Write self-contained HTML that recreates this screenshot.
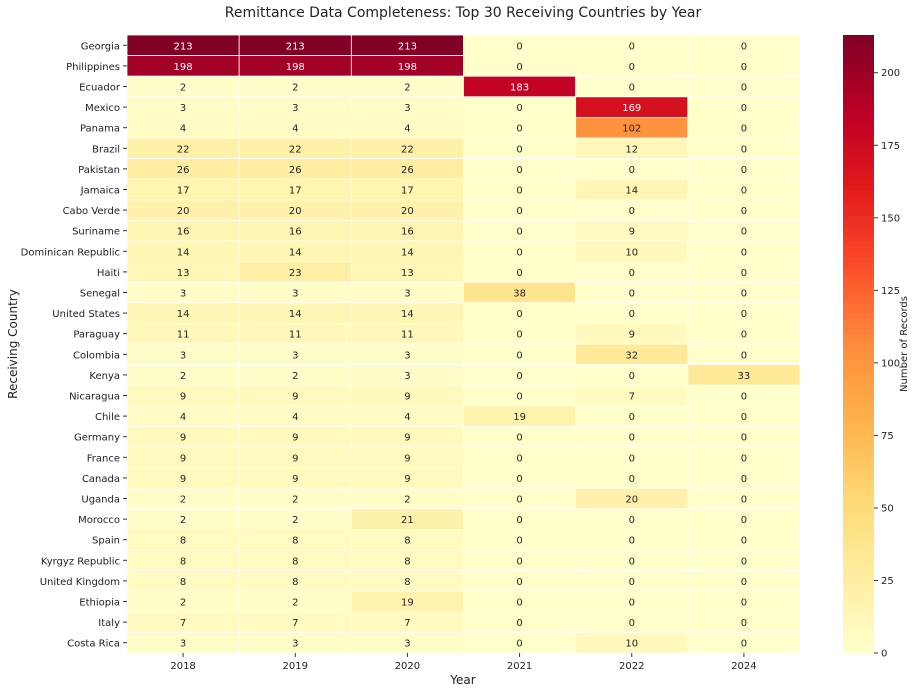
<!DOCTYPE html>
<html><head><meta charset="utf-8">
<style>
body{margin:0;background:#fff;font-family:"Liberation Sans","DejaVu Sans",sans-serif;}
svg text{font-family:"DejaVu Sans","Liberation Sans",sans-serif;}
</style></head>
<body>
<svg id="chart" width="918" height="689" xmlns="http://www.w3.org/2000/svg">
<text x="463" y="17" text-anchor="middle" font-size="14" fill="#222">Remittance Data Completeness: Top 30 Receiving Countries by Year</text>
<text x="463" y="684" text-anchor="middle" font-size="12" fill="#222">Year</text>
<text transform="translate(17,344) rotate(-90)" text-anchor="middle" font-size="12" fill="#222">Receiving Country</text>
<text transform="translate(907,344) rotate(-90)" text-anchor="middle" font-size="10" fill="#222">Number of Records</text>
<g id="cells"></g><g id="cbar"></g>
</svg>
<script>
const years=["2018","2019","2020","2021","2022","2024"];
const countries=["Georgia","Philippines","Ecuador","Mexico","Panama","Brazil","Pakistan","Jamaica","Cabo Verde","Suriname","Dominican Republic","Haiti","Senegal","United States","Paraguay","Colombia","Kenya","Nicaragua","Chile","Germany","France","Canada","Uganda","Morocco","Spain","Kyrgyz Republic","United Kingdom","Ethiopia","Italy","Costa Rica"];
const v2018=[213,198,2,3,4,22,26,17,20,16,14,13,3,14,11,3,2,9,4,9,9,9,2,2,8,8,8,2,7,3];
const v2019=[213,198,2,3,4,22,26,17,20,16,14,23,3,14,11,3,2,9,4,9,9,9,2,2,8,8,8,2,7,3];
const v2020=[213,198,2,3,4,22,26,17,20,16,14,13,3,14,11,3,3,9,4,9,9,9,2,21,8,8,8,19,7,3];
const v2021=[0,0,183,0,0,0,0,0,0,0,0,0,38,0,0,0,0,0,19,0,0,0,0,0,0,0,0,0,0,0];
const v2022=[0,0,0,169,102,12,0,14,0,9,10,0,0,0,9,32,0,7,0,0,0,0,20,0,0,0,0,0,0,10];
const v2024=[0,0,0,0,0,0,0,0,0,0,0,0,0,0,0,0,33,0,0,0,0,0,0,0,0,0,0,0,0,0];
const cbTicks=[0,25,50,75,100,125,150,175,200];
const series=[v2018,v2019,v2020,v2021,v2022,v2024];
const NS="http://www.w3.org/2000/svg";
const X0=127,X1=800,Y0=35,Y1=653;
const all=series.flat(),vmax=Math.max(...all),vmin=0;
const cw=(X1-X0)/years.length,ch=(Y1-Y0)/countries.length;
const xs=i=>X0+i*cw, ys=j=>Y0+j*ch;
const stops=["#ffffcc","#ffeda0","#fed976","#feb24c","#fd8d3c","#fc4e2a","#e31a1c","#bd0026","#800026"].map(h=>[1,3,5].map(k=>parseInt(h.substr(k,2),16)));
function cmap(v){let t=Math.max(0,Math.min(1,(v-vmin)/(vmax-vmin)))*(stops.length-1);let i=Math.min(Math.floor(t),stops.length-2),f=t-i;return stops[i].map((c,k)=>Math.round(c+(stops[i+1][k]-c)*f));}
function mk(tag,attrs,parent){const e=document.createElementNS(NS,tag);for(const k in attrs)e.setAttribute(k,attrs[k]);parent.appendChild(e);return e;}
const svg=document.getElementById('chart'),g=document.getElementById('cells'),cb=document.getElementById('cbar');
series.forEach((s,i)=>{s.forEach((v,j)=>{const c=cmap(v);
 const r=mk('rect',{x:xs(i),y:ys(j),width:cw,height:ch,fill:`rgb(${c})`,stroke:'#fff','stroke-width':0.8},g);
 
 
 const lum=(0.2126*c[0]+0.7152*c[1]+0.0722*c[2])/255;
 const t=mk('text',{x:xs(i)+cw/2,y:ys(j)+ch/2+4,'text-anchor':'middle','font-size':10,fill:lum>0.408?'#262626':'#fff'},g);t.textContent=v;
 
 
});});
countries.forEach((c,j)=>{mk('line',{x1:X0-4,x2:X0,y1:ys(j)+ch/2,y2:ys(j)+ch/2,stroke:'#333'},g);
 const t=mk('text',{x:X0-7,y:ys(j)+ch/2+4,'text-anchor':'end','font-size':10,fill:'#222'},g);t.textContent=c;
 
 });
years.forEach((y,i)=>{mk('line',{x1:xs(i)+cw/2,x2:xs(i)+cw/2,y1:Y1,y2:Y1+4,stroke:'#333'},g);
 const t=mk('text',{x:xs(i)+cw/2,y:Y1+16,'text-anchor':'middle','font-size':10,fill:'#222'},g);t.textContent=y;
 
 });
const CX=843,CW=31,N=120;
const cby=v=>Y1-(v-vmin)/(vmax-vmin)*(Y1-Y0);
for(let k=0;k<N;k++){const v=vmin+(k+0.5)/N*(vmax-vmin);
 const r=mk('rect',{x:CX,y:Y1-(k+1)*(Y1-Y0)/N,width:CW,height:(Y1-Y0)/N+0.6,fill:`rgb(${cmap(v)})`},cb);
 
 }
cbTicks.forEach(v=>{mk('line',{x1:CX+CW,x2:CX+CW+4,y1:cby(v),y2:cby(v),stroke:'#333'},cb);
 const t=mk('text',{x:CX+CW+7,y:cby(v)+3.5,'font-size':10,fill:'#222'},cb);t.textContent=v;
 
 });
</script>
</body></html>
